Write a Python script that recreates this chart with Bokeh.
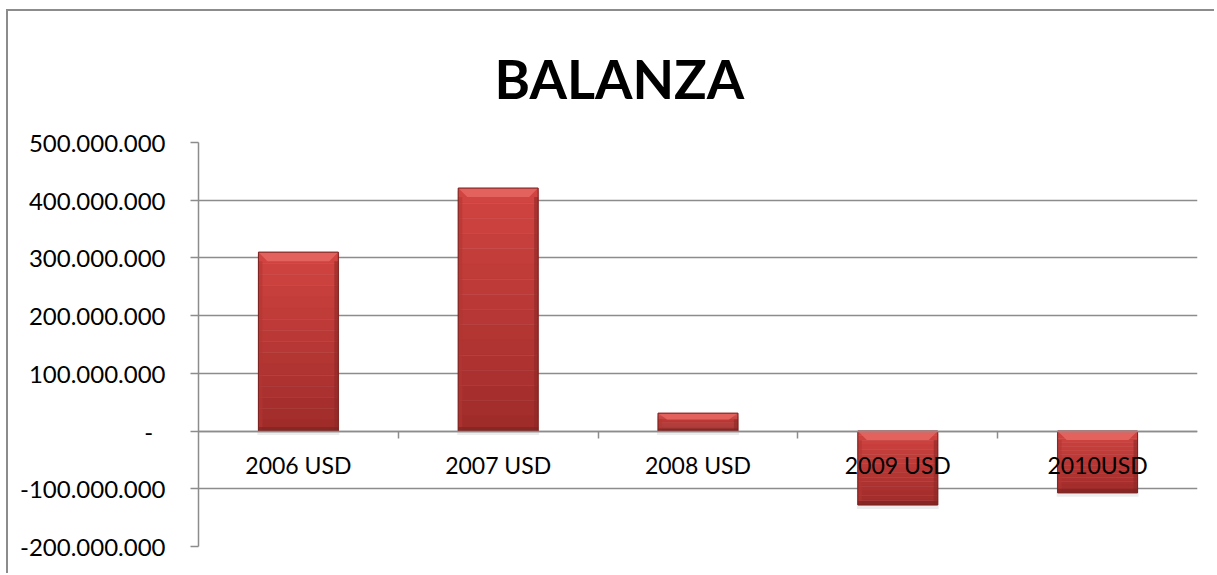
from bokeh.plotting import figure
from bokeh.models import Range1d, FixedTicker, LinearAxis, ColumnDataSource
from bokeh.embed import file_html
from bokeh.resources import INLINE

# ---- data ----
categories = ["2006 USD", "2007 USD", "2008 USD", "2009 USD", "2010USD"]
balanza = [310_000_000, 421_000_000, 31_000_000, -128_000_000, -107_000_000]
y_ticks = [-200_000_000, -100_000_000, 0, 100_000_000, 200_000_000,
           300_000_000, 400_000_000, 500_000_000]
y_tick_labels = ["-200.000.000", "-100.000.000", "-\u00a0\u00a0", "100.000.000",
                 "200.000.000", "300.000.000", "400.000.000", "500.000.000"]
title_text = "BALANZA"

FONT = "Lato"
GRID = "#8c8c8c"

p = figure(width=1208, height=564, output_backend="svg", toolbar_location=None,
           x_range=Range1d(0, len(categories)), y_range=Range1d(y_ticks[0], y_ticks[-1]),
           min_border_left=190, min_border_right=19, min_border_top=131,
           min_border_bottom=29, x_axis_location=None, y_axis_location="left",
           title=title_text)
p.styles = {"border-left": "2px solid #8c8c8c", "border-top": "2px solid #8c8c8c",
            "margin-left": "6px", "margin-top": "9px"}
p.outline_line_color = None
p.background_fill_color = "white"
p.border_fill_color = "white"

p.title.text_font = FONT
p.title.text_font_size = "54px"
p.title.text_font_style = "bold"
p.title.align = "left"
p.title.text_color = "black"
p.title.offset = 296
p.title.standoff = 64

# y axis
yax = p.yaxis[0]
yax.ticker = FixedTicker(ticks=y_ticks, minor_ticks=[])
yax.major_label_overrides = {t: l for t, l in zip(y_ticks, y_tick_labels)}
yax.major_label_text_font = FONT
yax.major_label_text_font_size = "24px"
yax.major_label_text_color = "black"
yax.axis_line_color = GRID
yax.axis_line_width = 1.5
yax.major_tick_line_color = GRID
yax.major_tick_line_width = 1.5
yax.major_tick_out = 8
yax.major_tick_in = 0
yax.minor_tick_line_color = None
yax.major_label_standoff = 25

p.ygrid.ticker = FixedTicker(ticks=y_ticks)
p.ygrid.grid_line_color = GRID
p.ygrid.grid_line_width = 1.5
p.xgrid.visible = False

# bars with bevel look
n = len(categories)
px_x = n / 999.0
px_y = (y_ticks[-1] - y_ticks[0]) / 404.0
half = 0.2
nb = 16
top_c = (208, 68, 65)
bot_c = (160, 44, 42)

def hexc(c):
    return "#%02x%02x%02x" % tuple(int(round(v)) for v in c)

sh = dict(left=[], right=[], bottom=[], top=[])
bands = dict(left=[], right=[], bottom=[], top=[], color=[])
bev_xs, bev_ys = [], []
side_l = dict(left=[], right=[], bottom=[], top=[])
side_r = dict(left=[], right=[], bottom=[], top=[])
bot_b = dict(left=[], right=[], bottom=[], top=[])
outl = dict(left=[], right=[], bottom=[], top=[])
for i, v in enumerate(balanza):
    xc = i + 0.5
    x0, x1 = xc - half, xc + half
    lo, hi = min(0, v), max(0, v)
    h = hi - lo
    # shadow
    sh["left"].append(x0 - 1 * px_x); sh["right"].append(x1 + 1 * px_x)
    sh["bottom"].append(lo - 4 * px_y); sh["top"].append(hi - 3 * px_y)
    for k in range(nb):
        t = k / (nb - 1)
        c = tuple(a + (b - a) * t for a, b in zip(top_c, bot_c))
        bands["left"].append(x0); bands["right"].append(x1)
        bands["top"].append(hi - h * k / nb); bands["bottom"].append(hi - h * (k + 1) / nb)
        bands["color"].append(hexc(c))
    dy = min(9 * px_y, 0.35 * h)
    dx = 9 * px_x
    bev_xs.append([x0, x1, x1 - dx, x0 + dx]); bev_ys.append([hi, hi, hi - dy, hi - dy])
    sw = 4 * px_x
    side_l["left"].append(x0); side_l["right"].append(x0 + sw)
    side_l["top"].append(hi - dy); side_l["bottom"].append(lo)
    side_r["left"].append(x1 - sw); side_r["right"].append(x1)
    side_r["top"].append(hi - dy); side_r["bottom"].append(lo)
    bb = min(4 * px_y, 0.15 * h)
    bot_b["left"].append(x0); bot_b["right"].append(x1)
    bot_b["top"].append(lo + bb); bot_b["bottom"].append(lo)
    outl["left"].append(x0); outl["right"].append(x1)
    outl["top"].append(hi); outl["bottom"].append(lo)

p.quad(source=ColumnDataSource(sh), left="left", right="right", bottom="bottom", top="top",
       fill_color="black", fill_alpha=0.07, line_color=None)
p.quad(source=ColumnDataSource(bands), left="left", right="right", bottom="bottom", top="top",
       fill_color="color", line_color="color", line_width=0.5)
p.quad(source=ColumnDataSource(side_l), left="left", right="right", bottom="bottom", top="top",
       fill_color="#b33532", fill_alpha=0.6, line_color=None)
p.quad(source=ColumnDataSource(side_r), left="left", right="right", bottom="bottom", top="top",
       fill_color="#8e2826", fill_alpha=0.6, line_color=None)
p.quad(source=ColumnDataSource(bot_b), left="left", right="right", bottom="bottom", top="top",
       fill_color="#7e2321", fill_alpha=0.7, line_color=None)
p.patches(xs=bev_xs, ys=bev_ys, fill_color="#e3625d", line_color=None)
p.quad(source=ColumnDataSource(outl), left="left", right="right", bottom="bottom", top="top",
       fill_color=None, line_color="#7a2220", line_width=1)

# category axis at zero
xax = LinearAxis(fixed_location=0)
xax.ticker = FixedTicker(ticks=[i + 0.5 for i in range(n)],
                         minor_ticks=[float(i) for i in range(1, n)])
xax.major_label_overrides = {i + 0.5: c for i, c in enumerate(categories)}
xax.major_label_text_font = FONT
xax.major_label_text_font_size = "23px"
xax.major_label_text_color = "black"
xax.axis_line_color = GRID
xax.axis_line_width = 1.5
xax.major_tick_line_color = None
xax.major_tick_out = 0
xax.major_tick_in = 0
xax.minor_tick_line_color = GRID
xax.minor_tick_line_width = 1.5
xax.minor_tick_out = 7
xax.minor_tick_in = 0
xax.major_label_standoff = 13
p.add_layout(xax, "below")

open("out.html", "w").write(file_html(p, INLINE))
